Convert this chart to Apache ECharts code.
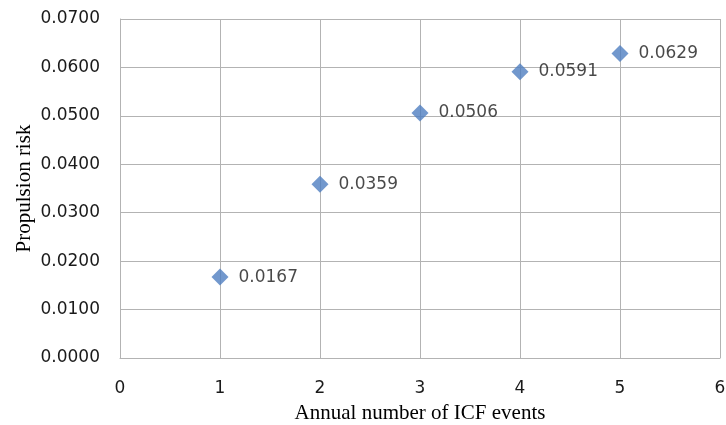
<!DOCTYPE html>
<html><head><meta charset="utf-8">
<script src="https://cdn.jsdelivr.net/npm/echarts@6/dist/echarts.min.js"></script>
<style>html,body{margin:0;padding:0;background:#fff}#c{width:726px;height:425px}</style>
</head><body><div id="c"></div>
<script>
const xValues = [1, 2, 3, 4, 5];
const riskValues = [0.0167, 0.0359, 0.0506, 0.0591, 0.0629];
const xTitle = 'Annual number of ICF events';
const yTitle = 'Propulsion risk';

const chart = echarts.init(document.getElementById('c'));
const gridColor = '#b3b3b3';
const sans = '"DejaVu Sans", Verdana, sans-serif';
const serif = '"Liberation Serif", "Times New Roman", serif';
chart.setOption({
  animation: false,
  backgroundColor: '#fff',
  grid: { left: 120, top: 19, right: 6, bottom: 67, containLabel: false, outerBoundsMode: 'none' },
  xAxis: {
    type: 'value', min: 0, max: 6, interval: 1,
    name: xTitle, nameLocation: 'middle', nameGap: 45, nameMoveOverlap: false,
    nameTextStyle: { fontFamily: serif, fontSize: 21, color: '#000' },
    axisLine: { show: true, lineStyle: { color: gridColor } },
    axisTick: { show: false },
    axisLabel: { fontFamily: sans, fontSize: 17, color: '#1a1a1a', margin: 22 },
    splitLine: { show: true, lineStyle: { color: gridColor, width: 1 } }
  },
  yAxis: {
    type: 'value', min: 0, max: 0.07, interval: 0.01,
    name: yTitle, nameLocation: 'middle', nameGap: 85, nameRotate: 90, nameMoveOverlap: false,
    nameTextStyle: { fontFamily: serif, fontSize: 21, color: '#000' },
    axisLine: { show: true, lineStyle: { color: gridColor } },
    axisTick: { show: false },
    axisLabel: { fontFamily: sans, fontSize: 17, color: '#1a1a1a', margin: 20,
      formatter: v => v.toFixed(4) },
    splitLine: { show: true, lineStyle: { color: gridColor, width: 1 } }
  },
  series: [{
    type: 'scatter',
    data: xValues.map((x, i) => [x, riskValues[i]]),
    symbol: 'diamond', symbolSize: [17, 17],
    itemStyle: { color: '#4f7ec0' },
    label: { show: true, position: 'right', distance: 10,
      fontFamily: sans, fontSize: 17, color: '#1a1a1a',
      formatter: p => p.value[1].toFixed(4) }
  }]
});
</script></body></html>
